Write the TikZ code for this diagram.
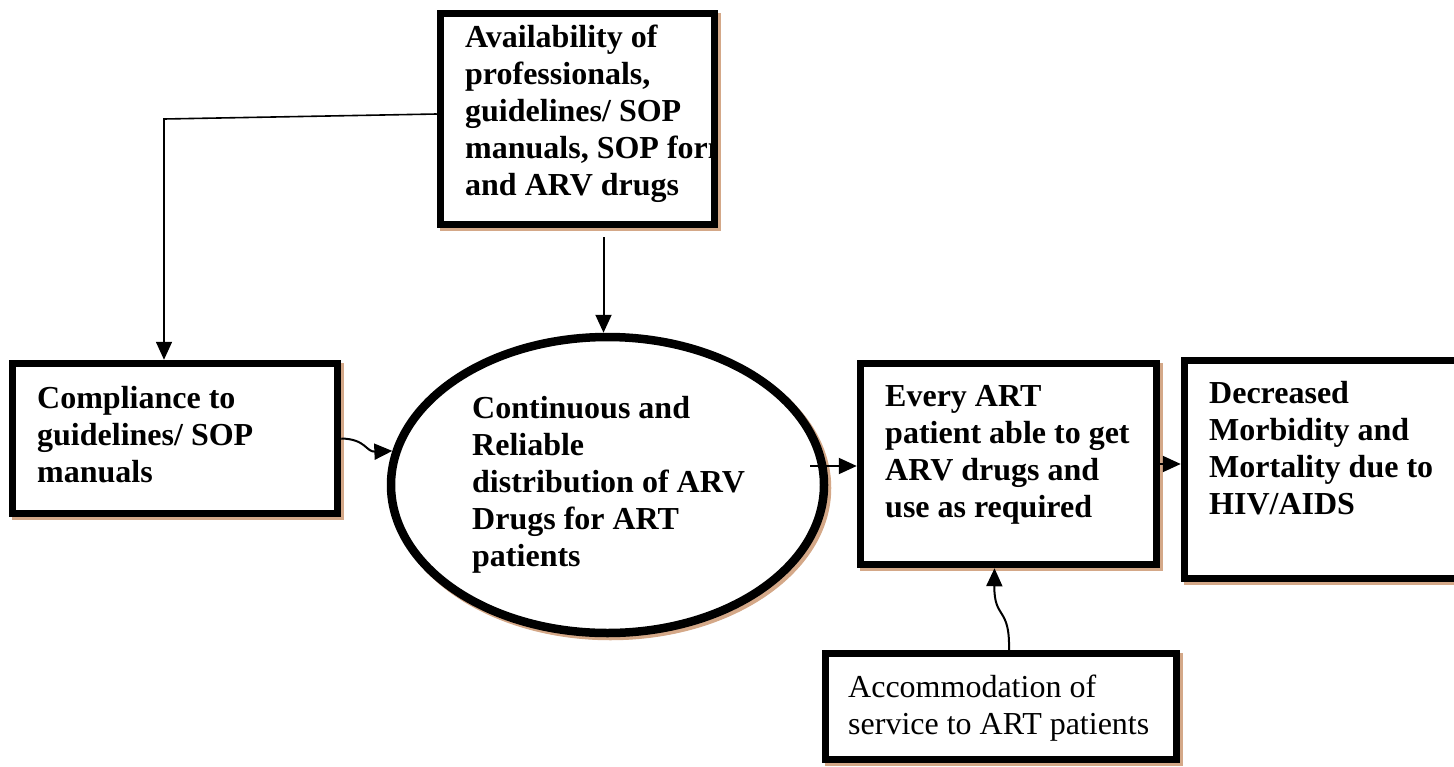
\documentclass[tikz,border=0pt]{standalone}
\usepackage{fontspec}
\setmainfont{Liberation Serif}
\usetikzlibrary{arrows.meta,shapes.geometric,shadows}
\definecolor{shtan}{RGB}{212,168,136}

\begin{document}
\begin{tikzpicture}[x=1pt,y=-1pt,
  box/.style={draw,fill=white,line width=7.5pt,inner sep=0pt,
    general shadow={draw=shtan,fill=white,line width=7.5pt,shadow xshift=3pt,shadow yshift=-3pt}},
  txt/.style={align=left,inner sep=0pt,anchor=north west,font=\bfseries\fontsize{32}{37}\selectfont},
  conn/.style={line width=2pt,-{Triangle[length=18pt,width=16pt]}}]
  \useasboundingbox (0,0) rectangle (1454,766);
  % boxes
  \node[box,minimum width=274pt,minimum height=211pt] (avail) at (577.5,119) {};
  \node[box,minimum width=325pt,minimum height=150pt] (comp) at (175,438.5) {};
  \node[box,ellipse,line width=8.5pt,minimum width=433pt,minimum height=296pt,
    general shadow={draw=shtan,fill=white,line width=8.5pt,shadow xshift=3pt,shadow yshift=-3pt}] (dist) at (607.5,485) {};
  \node[box,minimum width=296pt,minimum height=201pt] (every) at (1008.5,464) {};
  \node[box,minimum width=300pt,minimum height=218pt] (decr) at (1334.5,469.5) {};
  \node[box,minimum width=351pt,minimum height=106pt] (accom) at (1001,706.5) {};
  % texts
  \begin{scope}
    \clip ([xshift=-3pt]avail.north west) rectangle ([xshift=-3pt]avail.south east);
    \node[txt] (availtext) at (465,25) {Availability of\\professionals,\\guidelines/ SOP\\manuals, SOP forms\\and ARV drugs};
  \end{scope}
  \node[txt] (comptext) at (37,386) {Compliance to\\guidelines/ SOP\\manuals};
  \node[txt] (disttext) at (472,396) {Continuous and\\Reliable\\distribution of ARV\\Drugs for ART\\patients};
  \node[txt] (everytext) at (885,385) {Every ART\\patient able to get\\ARV drugs and\\use as required};
  \node[txt] (decrtext) at (1209,381) {Decreased\\Morbidity and\\Mortality due to\\HIV/AIDS};
  \node[txt,font=\fontsize{32}{37}\selectfont] (accomtext) at (848,675) {Accommodation of\\service to ART patients};
  % connectors
  \coordinate (K) at (164,119);
  \coordinate (E) at (810,466);
  \draw[conn,line width=1.6pt] ([yshift=5pt]avail.west) -- (K) -- (K |- comp.north);
  \draw[conn,shorten <=9pt] ([xshift=-4pt]dist.north |- avail.south) -- ([xshift=-4pt]dist.north);
  \draw[conn] (comp.east) .. controls (366,439) and (366,452) .. (dist.171);
  \draw[conn] (E) -- (E -| every.west);
  \draw[conn] ([xshift=-4pt]every.east) -- (every.east -| decr.west);
  \draw[conn] ([xshift=8pt]accom.north) .. controls (1010,606) and (994,620) .. ([xshift=-14pt]every.south);
\end{tikzpicture}
\end{document}
